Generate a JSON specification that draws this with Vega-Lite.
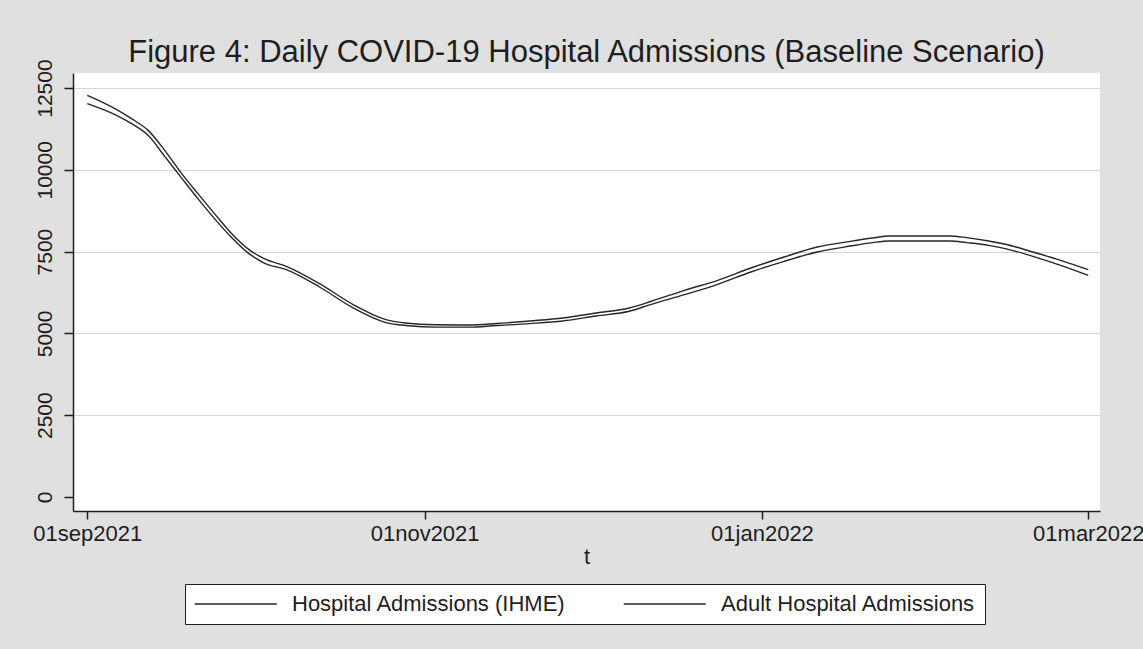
{
  "$schema": "https://vega.github.io/schema/vega-lite/v6.json",
  "width": 1027,
  "height": 438,
  "autosize": "none",
  "padding": {"left": 73, "top": 73, "right": 43, "bottom": 138},
  "background": "#e0e0e0",
  "title": {
    "text": "Figure 4: Daily COVID-19 Hospital Admissions (Baseline Scenario)",
    "font": "Liberation Sans",
    "fontSize": 31,
    "fontWeight": "normal",
    "color": "#1e1e1e",
    "anchor": "middle",
    "offset": -10
  },
  "config": {
    "view": {"fill": "white", "stroke": null},
    "font": "Liberation Sans"
  },
  "data": {
    "values": [
      {"date": "2021-09-01", "ihme": 12276, "adult": 12022},
      {"date": "2021-09-06", "ihme": 11870, "adult": 11686},
      {"date": "2021-09-09", "ihme": 11564, "adult": 11411},
      {"date": "2021-09-12", "ihme": 11206, "adult": 11054},
      {"date": "2021-09-15", "ihme": 10595, "adult": 10412},
      {"date": "2021-09-18", "ihme": 9901, "adult": 9761},
      {"date": "2021-09-21", "ihme": 9272, "adult": 9119},
      {"date": "2021-09-24", "ihme": 8661, "adult": 8508},
      {"date": "2021-09-27", "ihme": 8068, "adult": 7946},
      {"date": "2021-09-30", "ihme": 7591, "adult": 7469},
      {"date": "2021-10-03", "ihme": 7285, "adult": 7151},
      {"date": "2021-10-07", "ihme": 7050, "adult": 6949},
      {"date": "2021-10-13", "ihme": 6521, "adult": 6418},
      {"date": "2021-10-19", "ihme": 5889, "adult": 5788},
      {"date": "2021-10-25", "ihme": 5421, "adult": 5330},
      {"date": "2021-10-29", "ihme": 5310, "adult": 5235},
      {"date": "2021-11-03", "ihme": 5265, "adult": 5190},
      {"date": "2021-11-09", "ihme": 5256, "adult": 5190},
      {"date": "2021-11-14", "ihme": 5300, "adult": 5240},
      {"date": "2021-11-20", "ihme": 5379, "adult": 5299},
      {"date": "2021-11-26", "ihme": 5470, "adult": 5379},
      {"date": "2021-12-02", "ihme": 5623, "adult": 5531},
      {"date": "2021-12-08", "ihme": 5776, "adult": 5675},
      {"date": "2021-12-12", "ihme": 5981, "adult": 5889},
      {"date": "2021-12-18", "ihme": 6317, "adult": 6185},
      {"date": "2021-12-24", "ihme": 6622, "adult": 6500},
      {"date": "2021-12-30", "ihme": 6998, "adult": 6876},
      {"date": "2022-01-05", "ihme": 7334, "adult": 7203},
      {"date": "2022-01-11", "ihme": 7640, "adult": 7487},
      {"date": "2022-01-17", "ihme": 7814, "adult": 7671},
      {"date": "2022-01-21", "ihme": 7915, "adult": 7774},
      {"date": "2022-01-24", "ihme": 7976, "adult": 7823},
      {"date": "2022-02-04", "ihme": 7976, "adult": 7823},
      {"date": "2022-02-07", "ihme": 7927, "adult": 7774},
      {"date": "2022-02-11", "ihme": 7823, "adult": 7692},
      {"date": "2022-02-14", "ihme": 7723, "adult": 7591},
      {"date": "2022-02-19", "ihme": 7487, "adult": 7356},
      {"date": "2022-02-24", "ihme": 7234, "adult": 7081},
      {"date": "2022-03-01", "ihme": 6949, "adult": 6775}
    ]
  },
  "transform": [
    {"fold": ["ihme", "adult"], "as": ["series", "value"]}
  ],
  "mark": {"type": "line", "strokeWidth": 1.4, "interpolate": "monotone"},
  "encoding": {
    "x": {
      "field": "date",
      "type": "temporal",
      "scale": {
        "type": "utc",
        "domain": [
          {"year": 2021, "month": 8, "date": 29, "hours": 10, "utc": true},
          {"year": 2022, "month": 3, "date": 3, "hours": 3, "utc": true}
        ]
      },
      "axis": {
        "values": [
          {"year": 2021, "month": 9, "date": 1, "utc": true},
          {"year": 2021, "month": 11, "date": 1, "utc": true},
          {"year": 2022, "month": 1, "date": 1, "utc": true},
          {"year": 2022, "month": 3, "date": 1, "utc": true}
        ],
        "labelExpr": "lower(utcFormat(datum.value, '%d%b%Y'))",
        "title": "t",
        "grid": false,
        "domainColor": "#1e1e1e",
        "domainWidth": 1.5,
        "tickColor": "#1e1e1e",
        "tickWidth": 1.5,
        "tickSize": 8,
        "labelFontSize": 22,
        "labelColor": "#1e1e1e",
        "labelPadding": 4,
        "labelFlush": false,
        "labelOverlap": false,
        "titleFontSize": 22,
        "titleFontWeight": "normal",
        "titleColor": "#1e1e1e",
        "titlePadding": 2
      }
    },
    "y": {
      "field": "value",
      "type": "quantitative",
      "scale": {"domain": [-430, 12960], "nice": false, "zero": false},
      "axis": {
        "values": [0, 2500, 5000, 7500, 10000, 12500],
        "format": "d",
        "title": null,
        "labelAngle": -90,
        "labelAlign": "center",
        "labelBaseline": "alphabetic",
        "labelFontSize": 21,
        "labelColor": "#1e1e1e",
        "labelPadding": 13,
        "domainColor": "#1e1e1e",
        "domainWidth": 1.5,
        "tickColor": "#1e1e1e",
        "tickWidth": 1.5,
        "tickSize": 9,
        "gridColor": "#d4d4d4",
        "gridWidth": 1,
        "gridOpacity": {"condition": {"test": "datum.value === 0", "value": 0}, "value": 1}
      }
    },
    "color": {
      "field": "series",
      "type": "nominal",
      "scale": {"domain": ["ihme", "adult"], "range": ["#262626", "#262626"]},
      "legend": {
        "orient": "none",
        "legendX": 112,
        "legendY": 511,
        "direction": "horizontal",
        "title": null,
        "symbolType": "M-1,0H7",
        "symbolSize": 420,
        "symbolStrokeWidth": 1.3,
        "labelExpr": "datum.value === 'ihme' ? 'Hospital Admissions (IHME)' : 'Adult Hospital Admissions'",
        "labelFontSize": 22,
        "labelColor": "#1e1e1e",
        "labelOffset": 76,
        "columnPadding": 55,
        "padding": 9,
        "strokeColor": "#1e1e1e",
        "fillColor": "white",
        "labelLimit": 400
      }
    }
  }
}
